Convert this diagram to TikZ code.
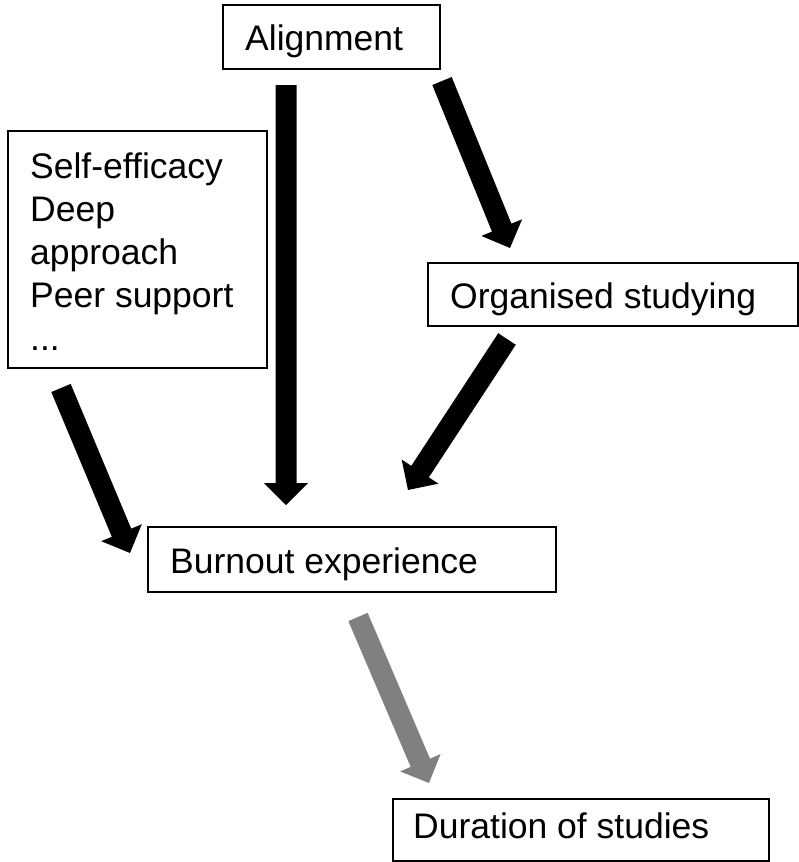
\documentclass[tikz,border=0pt]{standalone}
\usepackage{fontspec}
\setmainfont{Liberation Sans}
\usetikzlibrary{calc}
\tikzset{
  box/.style={draw=black, line width=1.4pt, rectangle, inner sep=0pt},
  lbl/.style={anchor=base west, inner sep=0pt, font=\fontsize{35.5}{43}\selectfont},
}
\newcommand\blockarr[3]{%
  \path ($(#3)!22pt!(#2)$) coordinate (H);
  \fill[#1] ($(#2)!10.5pt!90:(#3)$) -- ($(H)!10.5pt!90:(#3)$) -- ($(H)!22pt!90:(#3)$) -- (#3)
    -- ($(H)!22pt!-90:(#3)$) -- ($(H)!10.5pt!-90:(#3)$) -- ($(#2)!10.5pt!-90:(#3)$) -- cycle;
}
\begin{document}
\begin{tikzpicture}[x=1pt,y=-1pt]
\useasboundingbox (0,0) rectangle (799,862);
% boxes
\node[box, minimum width=217pt, minimum height=64pt] (align) at (331.5,37) {};
\node[box, minimum width=259pt, minimum height=237pt] (self) at (137.5,249.5) {};
\node[box, minimum width=370pt, minimum height=63pt] (org) at (613,294.5) {};
\node[box, minimum width=408pt, minimum height=65pt] (burn) at (352,559.5) {};
\node[box, minimum width=376pt, minimum height=62pt] (dur) at (581,830) {};
% labels
\node[lbl] (align-t) at (245,50) {Alignment};
\node[lbl] (self-t1) at (30,178) {Self-efficacy};
\node[lbl] (self-t2) at (30,221) {Deep};
\node[lbl] (self-t3) at (30,264) {approach};
\node[lbl] (self-t4) at (30,307) {Peer support};
\node[lbl] (self-t5) at (30,350) {...};
\node[lbl] (org-t) at (450,308) {Organised studying};
\node[lbl] (burn-t) at (170,573) {Burnout experience};
\node[lbl] (dur-t) at (413,838) {Duration of studies};
% arrow end points
\coordinate (a1s) at (286,85);  \coordinate (a1e) at (286,505);
\coordinate (a2s) at (442,81);  \coordinate (a2e) at (510,248);
\coordinate (a3s) at (507,339); \coordinate (a3e) at (408,490);
\coordinate (a4s) at (61,388);  \coordinate (a4e) at (130,553);
\coordinate (a5s) at (358,617); \coordinate (a5e) at (429,783);
\blockarr{black}{a1s}{a1e}
\blockarr{black}{a2s}{a2e}
\blockarr{black}{a3s}{a3e}
\blockarr{black}{a4s}{a4e}
\blockarr{black!50}{a5s}{a5e}
\end{tikzpicture}
\end{document}
